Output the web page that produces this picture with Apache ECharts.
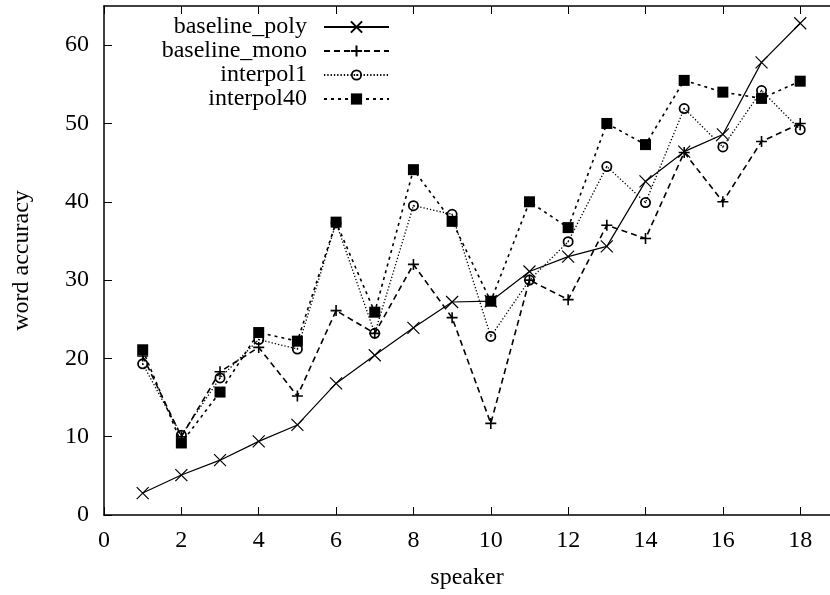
<!DOCTYPE html>
<html>
<head>
<meta charset="utf-8">
<script src="https://cdn.jsdelivr.net/npm/echarts@6/dist/echarts.min.js"></script>
<style>html,body{margin:0;padding:0;background:#fff;}#chart{width:830px;height:595px;}</style>
</head>
<body>
<div id="chart"></div>
<script>
const speakers = [1,2,3,4,5,6,7,8,9,10,11,12,13,14,15,16,17,18];
const baselinePoly = [2.8,5.1,7.0,9.4,11.5,16.8,20.4,23.9,27.2,27.3,31.1,33.0,34.3,42.6,46.4,48.6,57.8,62.8];
const baselineMono = [20.3,10.0,18.3,21.4,15.2,26.1,23.2,32.0,25.2,11.7,30.0,27.5,37.0,35.3,46.3,40.0,47.7,50.0];
const interpol1 = [19.3,10.2,17.5,22.4,21.2,37.3,23.2,39.5,38.4,22.8,30.0,34.9,44.5,39.9,51.9,47.0,54.2,49.2];
const interpol40 = [21.1,9.2,15.7,23.3,22.2,37.4,25.9,44.1,37.5,27.3,40.0,36.7,50.0,47.3,55.5,54.0,53.2,55.4];
const seriesNames = ['baseline_poly','baseline_mono','interpol1','interpol40'];

const FONT = 'Liberation Serif';
const pairs = arr => speakers.map((s, i) => [s, arr[i]]);

const crossSym = 'path://M0,0L10,10M10,0L0,10';
const plusSym = 'path://M5,0L5,10M0,5L10,5';
const ringSym = 'path://M0,5A5,5,0,1,1,10,5A5,5,0,1,1,0,5Z M1.6,5A3.4,3.4,0,1,0,8.4,5A3.4,3.4,0,1,0,1.6,5Z M4.3,5A0.7,0.7,0,1,1,5.7,5A0.7,0.7,0,1,1,4.3,5Z';

const chart = echarts.init(document.getElementById('chart'), null, {renderer: 'canvas'});

const axisCommon = {
  axisLine: {show: true, lineStyle: {color: '#000', width: 1.5}},
  axisTick: {show: true, inside: true, length: 8, lineStyle: {color: '#000', width: 1}},
  splitLine: {show: false},
};

const option = {
  animation: false,
  backgroundColor: '#fff',
  grid: {left: 104, right: 0, top: 6, bottom: 77, show: false},
  legend: {
    orient: 'vertical',
    right: 440,
    top: 15,
    align: 'right',
    itemWidth: 65,
    itemHeight: 14,
    itemGap: 0,
    padding: 0,
    data: seriesNames,
    textStyle: {fontFamily: FONT, fontSize: 24, color: '#000', padding: [0, 12, 0, 0]},
  },
  xAxis: [
    Object.assign({
      type: 'value', position: 'bottom', min: 0, max: 18.77, interval: 2,
      name: 'speaker', nameLocation: 'middle', nameGap: 51,
      nameTextStyle: {fontFamily: FONT, fontSize: 24, color: '#000'},
      axisLabel: {fontFamily: FONT, fontSize: 24, color: '#000', margin: 14, showMaxLabel: false},
    }, axisCommon),
    Object.assign({
      type: 'value', position: 'top', min: 0, max: 18.77, interval: 2,
      axisLabel: {show: false},
    }, axisCommon),
  ],
  yAxis: [
    Object.assign({
      type: 'value', position: 'left', min: 0, max: 65, interval: 10,
      name: 'word accuracy', nameLocation: 'middle', nameGap: 70, nameRotate: 90,
      nameTextStyle: {fontFamily: FONT, fontSize: 24, color: '#000'},
      axisLabel: {fontFamily: FONT, fontSize: 24, color: '#000', margin: 15, showMaxLabel: false},
    }, axisCommon),
  ],
  series: [
    {
      name: seriesNames[0], type: 'line', data: pairs(baselinePoly),
      symbol: crossSym, symbolSize: 12, showAllSymbol: true,
      lineStyle: {color: '#000', width: 1.2, type: 'solid'},
      itemStyle: {color: '#000', borderColor: '#000', borderWidth: 1.2},
      emphasis: {disabled: true},
    },
    {
      name: seriesNames[1], type: 'line', data: pairs(baselineMono),
      symbol: plusSym, symbolSize: 11, showAllSymbol: true,
      lineStyle: {color: '#000', width: 1.6, type: [6, 4]},
      itemStyle: {color: '#000', borderColor: '#000', borderWidth: 1.6},
      emphasis: {disabled: true},
    },
    {
      name: seriesNames[2], type: 'line', data: pairs(interpol1),
      symbol: ringSym, symbolSize: 11, showAllSymbol: true,
      lineStyle: {color: '#000', width: 1.3, type: [1.3, 2]},
      itemStyle: {color: '#000', borderWidth: 0},
      emphasis: {disabled: true},
    },
    {
      name: seriesNames[3], type: 'line', data: pairs(interpol40),
      symbol: 'rect', symbolSize: 11, showAllSymbol: true,
      lineStyle: {color: '#000', width: 1.6, type: [3, 4]},
      itemStyle: {color: '#000', borderWidth: 0},
      emphasis: {disabled: true},
    },
  ],
};
chart.setOption(option);
</script>
</body>
</html>
